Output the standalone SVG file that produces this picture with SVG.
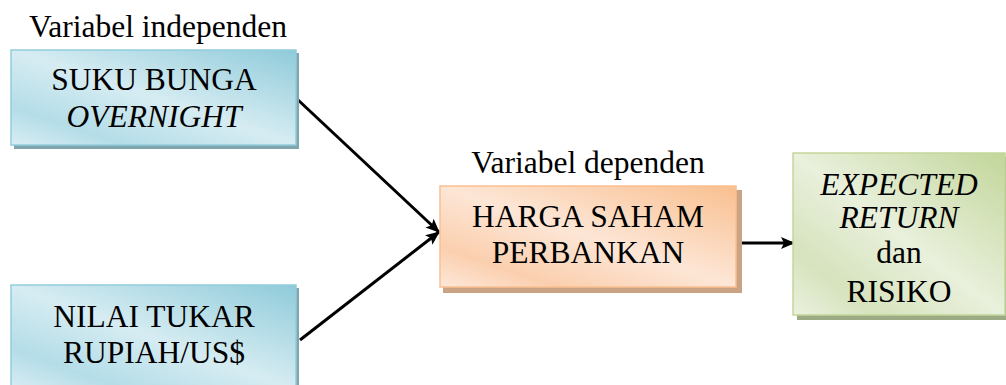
<svg xmlns="http://www.w3.org/2000/svg" width="1006" height="385" viewBox="0 0 1006 385">
<defs>
<linearGradient id="gBlue" x1="1" y1="0" x2="0" y2="1">
<stop offset="0" stop-color="#8fcbda"/>
<stop offset="0.5" stop-color="#d6ecf2"/>
<stop offset="0.8" stop-color="#b4dde8"/>
<stop offset="1" stop-color="#d9edf3"/>
</linearGradient>
<linearGradient id="gOrange" x1="1" y1="0" x2="0" y2="1">
<stop offset="0" stop-color="#f9bf8f"/>
<stop offset="0.5" stop-color="#fde6d6"/>
<stop offset="0.8" stop-color="#fbcfae"/>
<stop offset="1" stop-color="#fde8da"/>
</linearGradient>
<linearGradient id="gGreen" x1="1" y1="0" x2="0" y2="1">
<stop offset="0" stop-color="#c2d69a"/>
<stop offset="0.5" stop-color="#e9f0dc"/>
<stop offset="0.8" stop-color="#d6e3bd"/>
<stop offset="1" stop-color="#ebf1df"/>
</linearGradient>
<marker id="arr" markerWidth="14" markerHeight="12" refX="13" refY="6" orient="auto" markerUnits="userSpaceOnUse">
<path d="M0,0 L14,6 L0,12 L3,6 Z" fill="#000"/>
</marker>
</defs>
<style>
text{font-family:"Liberation Serif","Times New Roman",serif;font-size:31.5px;fill:#000;}
.c{text-anchor:middle;}
.i{font-style:italic;}
.line{stroke:#000;stroke-width:3;fill:none;marker-end:url(#arr);}
</style>
<text x="29" y="37">Variabel independen</text>
<text x="588" y="173" class="c">Variabel dependen</text>
<g id="connectors">
<line class="line" x1="297" y1="99" x2="439" y2="232"/>
<line class="line" x1="300" y1="340" x2="439" y2="232"/>
<line class="line" x1="738" y1="243" x2="794" y2="243"/>
</g>
<g id="node-suku-bunga">
<rect x="14" y="53" width="285" height="96" fill="#7fa5af"/>
<rect x="11" y="50" width="285" height="95" fill="url(#gBlue)" stroke="#93cddd" stroke-width="1.5"/>
<text x="154" y="90" class="c">SUKU BUNGA</text>
<text x="154" y="127" class="c i">OVERNIGHT</text>
</g>
<g id="node-nilai-tukar">
<rect x="14" y="288" width="285" height="100" fill="#7fa5af"/>
<rect x="11" y="285" width="285" height="105" fill="url(#gBlue)" stroke="#93cddd" stroke-width="1.5"/>
<text x="154" y="327" class="c">NILAI TUKAR</text>
<text x="154" y="363" class="c">RUPIAH/US$</text>
</g>
<g id="node-harga-saham">
<rect x="443" y="190" width="299" height="103" fill="#c9a383"/>
<rect x="440" y="186" width="296" height="101" fill="url(#gOrange)" stroke="#fac090" stroke-width="1.5"/>
<text x="588" y="227" class="c">HARGA SAHAM</text>
<text x="588" y="263" class="c">PERBANKAN</text>
</g>
<g id="node-expected-return">
<rect x="797" y="157" width="212" height="163" fill="#9dab85"/>
<rect x="793" y="153" width="212" height="162" fill="url(#gGreen)" stroke="#c3d69b" stroke-width="1.5"/>
<text x="899" y="195" class="c i">EXPECTED</text>
<text x="899" y="228" class="c i">RETURN</text>
<text x="899" y="263" class="c">dan</text>
<text x="899" y="302" class="c">RISIKO</text>
</g>
</svg>
